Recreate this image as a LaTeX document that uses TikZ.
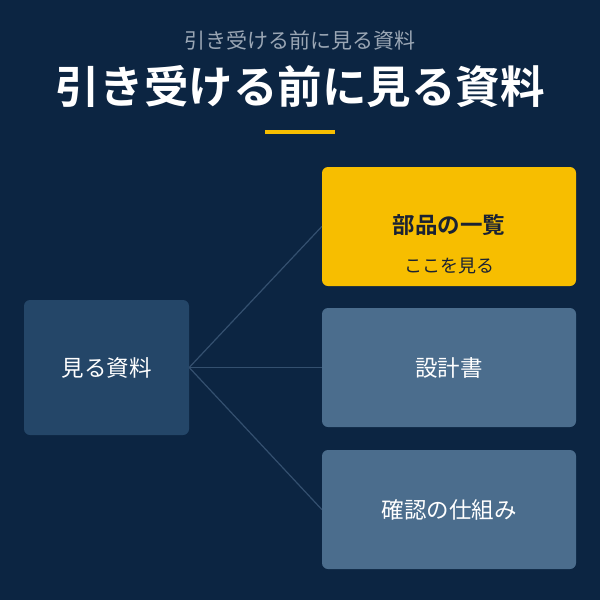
\documentclass[tikz,border=0pt]{standalone}
\usepackage{fontspec}
\setmainfont{Noto Sans CJK JP}
\newfontfamily\jpbold{Noto Sans CJK JP Bold}
\usetikzlibrary{positioning}
\definecolor{bgnavy}{HTML}{0C2542}
\definecolor{leftbox}{HTML}{244668}
\definecolor{rightbox}{HTML}{4B6D8D}
\definecolor{hilite}{HTML}{F7BE00}
\definecolor{linkline}{HTML}{34506F}
\definecolor{subgray}{HTML}{9AA6B4}
\definecolor{darktext}{HTML}{1A2233}
\tikzset{
  box/.style={draw=none,rounded corners=6pt,minimum width=254pt,minimum height=119pt,align=center,text=white,font=\fontsize{22.5}{26}\selectfont},
  link/.style={-,draw=linkline,line width=1.2pt}
}
\begin{document}
\begin{tikzpicture}[x=1pt,y=-1pt]
\fill[bgnavy] (0,0) rectangle (600,600);
\useasboundingbox (0,0) rectangle (600,600);
\node[text=subgray,font=\fontsize{21}{24}\selectfont] (sub) at (300,40) {引き受ける前に見る資料};
\node[text=white,font=\jpbold\fontsize{44.5}{48}\selectfont] (title) at (300,87) {引き受ける前に見る資料};
\fill[hilite] (265,129.5) rectangle (335,133.5);
\node[box,fill=leftbox,minimum width=165pt,minimum height=135pt] (root) at (106.5,367.5) {見る資料};
\node[box,fill=hilite,text=darktext] (parts) at (449,226.5) {};
\node[text=darktext,font=\jpbold\fontsize{22.5}{26}\selectfont] (partsT) at (449,225) {部品の一覧};
\node[text=darktext,font=\fontsize{18}{22}\selectfont] (partsS) at (449,266) {ここを見る};
\node[box,fill=rightbox] (design) at (449,367.5) {設計書};
\node[box,fill=rightbox] (check) at (449,509.5) {確認の仕組み};
\path [link] (root.east) edge (parts.west);
\path [link] (root.east) edge (design.west);
\path [link] (root.east) edge (check.west);
\end{tikzpicture}
\end{document}
